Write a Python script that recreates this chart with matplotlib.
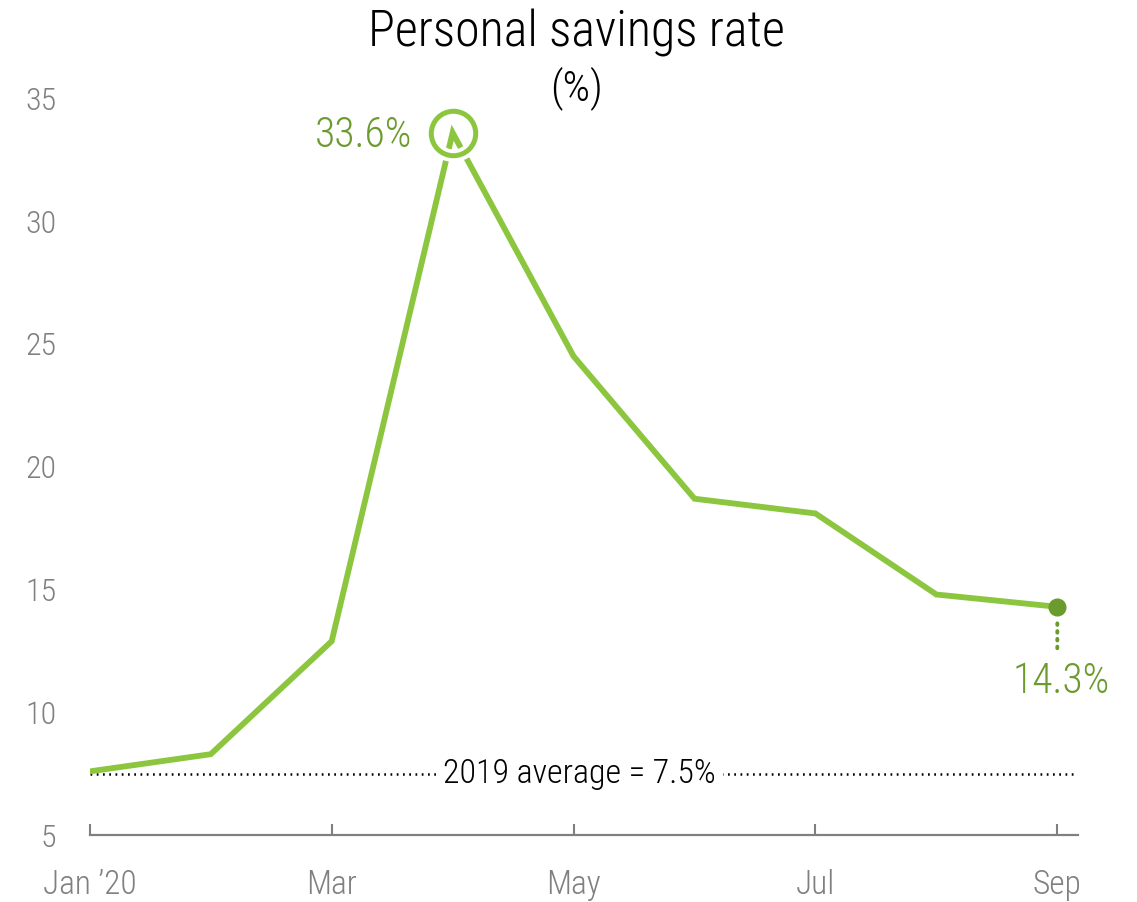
import matplotlib.pyplot as plt
from matplotlib import font_manager

# pick a narrow sans face if one is installed
installed = {f.name for f in font_manager.fontManager.ttflist}
narrow = [n for n in ['Roboto Condensed', 'Liberation Sans Narrow', 'Open Sans Condensed',
                      'DejaVu Sans Condensed', 'Noto Sans Condensed'] if n in installed]
plt.rcParams['font.family'] = narrow[:1] + ['Roboto', 'DejaVu Sans']
plt.rcParams['font.stretch'] = 'condensed'
plt.rcParams['font.weight'] = 'light'

months = ['Jan', 'Feb', 'Mar', 'Apr', 'May', 'Jun', 'Jul', 'Aug', 'Sep']
savings_rate = [7.6, 8.3, 12.9, 33.6, 24.5, 18.7, 18.1, 14.8, 14.3]
avg_2019 = 7.5
tick_pos = [0, 2, 4, 6, 8]
tick_labels = ['Jan \u201920', 'Mar', 'May', 'Jul', 'Sep']
y_ticks = [5, 10, 15, 20, 25, 30, 35]

green = '#8cc63f'
dark_green = '#6b9a2e'
grey = '#808080'

fig = plt.figure(figsize=(11.37, 9.02), dpi=100)
ax = fig.add_axes([0.079, 0.074, 0.869, 0.817])

x = list(range(len(months)))
ax.plot(x, savings_rate, color=green, lw=4.2, solid_joinstyle='miter', zorder=3)

# 2019 average reference line with label
ax.axhline(avg_2019, color='black', lw=1.8, ls=(0, (0.7, 1.8)), zorder=2)
ax.text(4.05, avg_2019, '2019 average = 7.5%', ha='center', va='center', fontsize=24.5,
        color='black', zorder=4,
        bbox=dict(facecolor='white', edgecolor='none', pad=5))

# peak marker: ring with white halo
i_peak = savings_rate.index(max(savings_rate))
ax.plot(x[i_peak], savings_rate[i_peak], 'o', ms=32, mfc='none', mec='white', mew=9, zorder=5)
ax.plot(x[i_peak], savings_rate[i_peak], 'o', ms=32, mfc='none', mec=green, mew=3.6, zorder=6)
ax.annotate(f'{savings_rate[i_peak]}%', (x[i_peak], savings_rate[i_peak]),
            xytext=(-29, -2), textcoords='offset points', ha='right', va='center',
            fontsize=30, color=dark_green)

# last value marker
ax.plot(x[-1], savings_rate[-1], 'o', ms=12, color=dark_green, zorder=6)
ax.annotate('', (x[-1], savings_rate[-1] - 0.55), xytext=(x[-1], savings_rate[-1] - 1.8),
            arrowprops=dict(arrowstyle='-', color=dark_green, lw=2.8, ls=(0, (0.4, 1.6))))
ax.annotate(f'{savings_rate[-1]}%', (x[-1], savings_rate[-1]),
            xytext=(3, -54), textcoords='offset points', ha='center', va='center',
            fontsize=30, color=dark_green)

ax.set_xlim(0, 8.17)
ax.set_ylim(5, 35)
ax.set_xticks(tick_pos)
ax.set_xticklabels(tick_labels)
ax.set_yticks(y_ticks)
ax.tick_params(axis='x', direction='in', length=8, width=1.5, color=grey,
               labelcolor=grey, labelsize=24, pad=24)
ax.tick_params(axis='y', length=0, labelcolor=grey, labelsize=23, pad=24)
for s in ['top', 'right', 'left']:
    ax.spines[s].set_visible(False)
ax.spines['bottom'].set_color(grey)
ax.spines['bottom'].set_linewidth(1.6)

fig.text(0.507, 0.963, 'Personal savings rate', ha='center', va='center', fontsize=36)
fig.text(0.507, 0.902, '(%)', ha='center', va='center', fontsize=31)

plt.savefig('out.png')
